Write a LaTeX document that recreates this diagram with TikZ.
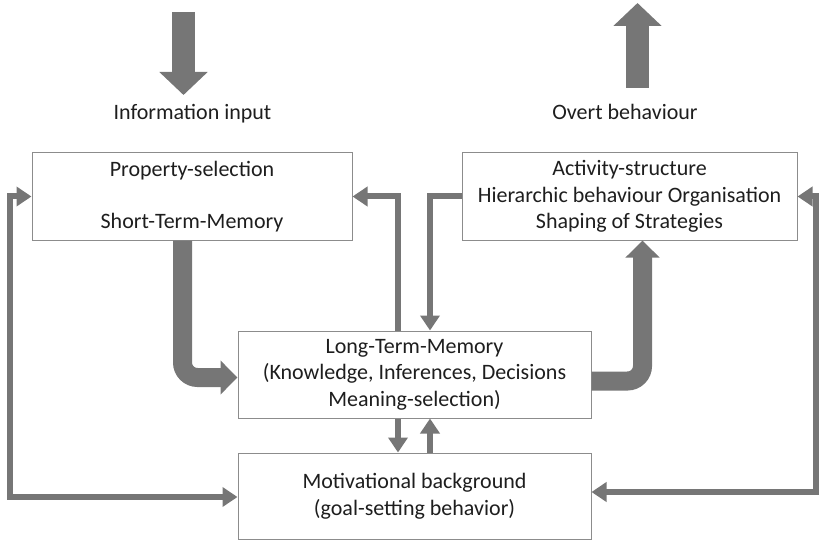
\documentclass[tikz,border=0pt]{standalone}
\usepackage{fontspec}
\setmainfont{Carlito}
\usetikzlibrary{arrows.meta}
\definecolor{flowgray}{RGB}{118,118,118}
\definecolor{boxgray}{RGB}{140,140,140}
\definecolor{textgray}{RGB}{30,30,30}

\begin{document}
\begin{tikzpicture}[x=1pt, y=-1pt]
  \tikzstyle{block}=[draw=boxgray, line width=1pt, fill=white, text=textgray,
    align=center, minimum height=87pt, inner sep=0pt,
    font=\fontsize{22}{26.5}\selectfont]
  \tikzstyle{caption}=[text=textgray, anchor=base, font=\fontsize{22}{26.5}\selectfont]
  \tikzstyle{flow}=[draw=flowgray, line width=6pt, -{Triangle[length=15pt,width=19pt]}]
  \tikzstyle{bigflow}=[draw=flowgray, line width=19pt, rounded corners=15pt,
    -{Triangle[length=17pt,width=33pt]}]
  \tikzstyle{blockflow}=[draw=flowgray, line width=23pt,
    -{Triangle[length=23pt,width=47pt]}]

  \useasboundingbox (0,0) rectangle (819,540);

  \node[caption] (info) at (192.5,120) {Information input};
  \node[caption] (overt) at (625,120) {Overt behaviour};

  \node[block, minimum width=320pt] (prop) at (192,196.5)
    {Property-selection\\[26pt]Short-Term-Memory};
  \node[block, minimum width=335pt] (act) at (629.5,196.5)
    {Activity-structure\\Hierarchic behaviour Organisation\\Shaping of Strategies};
  \node[block, minimum width=353pt] (ltm) at (414.5,374.5)
    {Long-Term-Memory\\(Knowledge, Inferences, Decisions\\Meaning-selection)};
  \node[block, minimum width=353pt, minimum height=86pt] (mot) at (414.5,496)
    {Motivational background\\(goal-setting behavior)};

  % in and out of the system
  \coordinate (in-a) at (183.5,12);
  \coordinate (in-b) at (183.5,95);
  \coordinate (out-a) at (637.5,88);
  \coordinate (out-b) at (637.5,3);
  \path[blockflow] (in-a) -- (in-b);
  \path[blockflow] (out-a) -- (out-b);

  % main stream
  \path[bigflow] ([xshift=-9.5pt]prop.south) |- ([yshift=-3pt]ltm.west);
  \path[bigflow] ([yshift=-6.5pt]ltm.east) -| ([xshift=13pt]act.south);

  % feedback
  \path[flow] ([xshift=-16.5pt]ltm.north) |- (prop.east);
  \path[flow] (act.west) -| ([xshift=15.5pt]ltm.north);
  \path[flow] ([xshift=-16.5pt]ltm.south) -- ([xshift=-16.5pt]mot.north);
  \path[flow] ([xshift=15.5pt]mot.north) -- ([xshift=15.5pt]ltm.south);
  \path[flow, {Triangle[length=15pt,width=19pt]}-{Triangle[length=15pt,width=19pt]}]
    ([yshift=-1pt]mot.west) -- ++(-227.5,0) |- (prop.west);
  \path[flow, {Triangle[length=15pt,width=19pt]}-{Triangle[length=15pt,width=19pt]}]
    (act.east) -- ++(18,0) |- ([yshift=4pt]mot.east);
\end{tikzpicture}
\end{document}
